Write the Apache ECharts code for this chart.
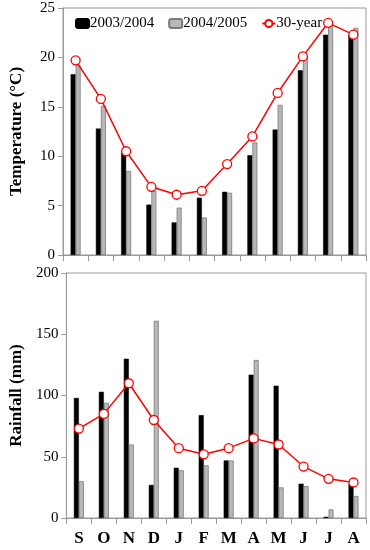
<!DOCTYPE html>
<html><head><meta charset="utf-8">
<script src="https://cdn.jsdelivr.net/npm/echarts@6/dist/echarts.min.js"></script>
<style>html,body{margin:0;padding:0;background:#fff}#c{width:370px;height:550px}</style>
</head><body><div id="c"></div>
<script>
const months = ['S','O','N','D','J','F','M','A','M','J','J','A'];
const temp0304 = [18.3,12.8,10.5,5.1,3.3,5.8,6.4,10.1,12.7,18.7,22.3,22.3];
const temp0405 = [19.2,15.1,8.5,6.5,4.8,3.8,6.3,11.4,15.2,20.1,23.3,23.0];
const temp30 = [19.7,15.8,10.5,6.9,6.1,6.5,9.2,12.0,16.4,20.1,23.5,22.3];
const rain0304 = [98,103,130,27,41,84,47,117,108,28,1,28];
const rain0405 = [30,94,60,161,39,43,47,129,25,26,7,18];
const rain30 = [73,85,110,80,57,52,57,65,60,42,32,29];
const tempTicks = [0,5,10,15,20,25];
const rainTicks = [0,50,100,150,200];

const F = 'Liberation Serif';
const chart = echarts.init(document.getElementById('c'));
const barBlack = {color:'#000', borderColor:'#000', borderWidth:0.5};
const barGray = {color:'#b8b8b8', borderColor:'#7a7a7a', borderWidth:0.8};
const lineStyle = {color:'#ff0000', width:1.5};
const sym = {color:'#fff', borderColor:'#ff0000', borderWidth:1.3};
function xAx(i, showLabel){
  return {type:'category', gridIndex:i, data:months, boundaryGap:true,
    axisLine:{lineStyle:{color:'#999'}},
    axisTick:{show:true, alignWithLabel:false, length:6, lineStyle:{color:'#999'}},
    axisLabel:{show:showLabel, fontFamily:F, fontWeight:'bold', fontSize:17, color:'#000', margin:12}};
}
function yAx(i, max, interval, name){
  return {type:'value', gridIndex:i, min:0, max:max, interval:interval,
    name:name, nameLocation:'middle', nameGap:38,
    nameTextStyle:{fontFamily:F, fontWeight:'bold', fontSize:17, color:'#000'},
    axisLine:{show:true, lineStyle:{color:'#999'}},
    axisTick:{show:true, length:5, lineStyle:{color:'#999'}},
    splitLine:{show:false},
    axisLabel:{fontFamily:F, fontSize:15, color:'#000', margin:8}};
}
chart.setOption({
  animation:false,
  textStyle:{fontFamily:F},
  legend:{top:11, left:70, itemGap:14, itemWidth:13, itemHeight:9,
    textStyle:{fontFamily:F, fontSize:15, color:'#000', padding:[0,0,0,-4]},
    data:[{name:'2003/2004'},{name:'2004/2005'},{name:'30-year', itemStyle:{color:'#fff',borderColor:'#ff0000'}}]},
  grid:[
    {left:57, top:8, width:309, height:247, show:true, borderColor:'#999', borderWidth:1, containLabel:false},
    {left:57, top:273, width:309, height:245, show:true, borderColor:'#999', borderWidth:1, containLabel:false}
  ],
  xAxis:[xAx(0,false), xAx(1,true)],
  yAxis:[yAx(0,tempTicks[tempTicks.length-1],5,'Temperature (°C)'), yAx(1,rainTicks[rainTicks.length-1],50,'Rainfall (mm)')],
  series:[
    {name:'2003/2004', type:'bar', xAxisIndex:0, yAxisIndex:0, data:temp0304, barWidth:5, barGap:'0%', itemStyle:barBlack},
    {name:'2004/2005', type:'bar', xAxisIndex:0, yAxisIndex:0, data:temp0405, barWidth:5, barGap:'0%', itemStyle:barGray},
    {name:'30-year', type:'line', xAxisIndex:0, yAxisIndex:0, data:temp30, symbol:'circle', symbolSize:9, lineStyle:lineStyle, itemStyle:sym, z:5},
    {name:'2003/2004', type:'bar', xAxisIndex:1, yAxisIndex:1, data:rain0304, barWidth:5, barGap:'0%', itemStyle:barBlack},
    {name:'2004/2005', type:'bar', xAxisIndex:1, yAxisIndex:1, data:rain0405, barWidth:5, barGap:'0%', itemStyle:barGray},
    {name:'30-year', type:'line', xAxisIndex:1, yAxisIndex:1, data:rain30, symbol:'circle', symbolSize:9, lineStyle:lineStyle, itemStyle:sym, z:5}
  ]
});
</script></body></html>
